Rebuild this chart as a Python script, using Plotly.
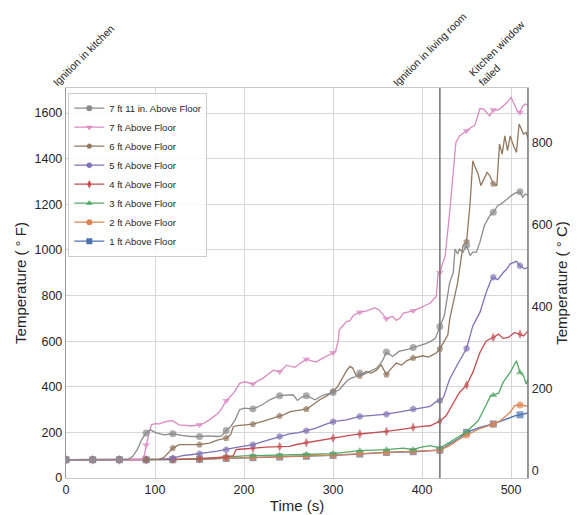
import plotly.graph_objects as go

# ---------------- data (time in s, temperature in deg F) ----------------
T_7FT11 = [0, 30, 60, 70, 75, 80, 85, 90, 95, 100,
           110, 120, 130, 140, 150, 160, 170, 175, 180, 185,
           190, 195, 200, 210, 220, 230, 240, 250, 255, 260,
           265, 270, 275, 280, 285, 290, 300, 307, 312, 317,
           322, 326, 330, 334, 340, 349, 353, 356, 360, 364,
           367, 374, 380, 385, 390, 400, 405, 410, 415, 420,
           423, 425, 428, 431, 435, 437, 440, 442, 446, 450,
           454, 457, 461, 465, 470, 476, 480, 485, 490, 495,
           500, 505, 510, 513, 516, 519]
F_7FT11 = [80, 80, 80, 82, 95, 124, 168, 197, 211, 200,
           189, 194, 187, 182, 182, 185, 182, 185, 208, 225,
           255, 299, 306, 303, 320, 345, 361, 362, 365, 340,
           355, 361, 352, 343, 355, 365, 375, 387, 410, 431,
           440, 445, 460, 453, 465, 482, 500, 518, 552, 540,
           533, 555, 560, 565, 572, 584, 590, 600, 612, 664,
           690, 711, 784, 857, 900, 1004, 983, 1004, 990, 1020,
           975, 990, 990, 1034, 1107, 1150, 1165, 1194, 1205, 1223,
           1238, 1250, 1255, 1231, 1245, 1240]

T_7FT = [0, 30, 60, 85, 88, 90, 93, 96, 100, 105,
         110, 119, 127, 135, 140, 150, 155, 161, 166, 171,
         175, 180, 184, 188, 192, 195, 201, 205, 210, 215,
         221, 227, 233, 240, 244, 248, 252, 257, 262, 270,
         275, 281, 286, 292, 300, 303, 306, 307, 311, 315,
         319, 323, 330, 335, 341, 347, 352, 356, 360, 364,
         367, 371, 375, 379, 385, 390, 397, 403, 409, 414,
         416, 418, 420, 423, 426, 431, 435, 438, 442, 446,
         450, 455, 459, 462, 465, 469, 472, 476, 480, 484,
         487, 491, 495, 500, 504, 507, 510, 513, 516, 519]
F_7FT = [80, 80, 80, 80, 100, 145, 195, 233, 238, 237,
         245, 252, 233, 231, 228, 233, 240, 255, 268, 284,
         305, 339, 355, 371, 395, 415, 422, 418, 412, 425,
         437, 455, 473, 466, 480, 495, 490, 485, 500, 521,
         515, 508, 520, 531, 549, 558, 606, 650, 670, 686,
         690, 714, 727, 730, 737, 747, 736, 715, 698, 705,
         708, 691, 700, 723, 728, 733, 745, 755, 766, 788,
         796, 898, 901, 940, 975, 1165, 1355, 1471, 1500, 1510,
         1523, 1537, 1545, 1580, 1620, 1618, 1603, 1588, 1615, 1612,
         1617, 1629, 1645, 1669, 1632, 1610, 1603, 1630, 1640, 1635]

T_6FT = [0, 30, 60, 90, 105, 110, 115, 120, 127, 135,
         140, 150, 161, 171, 180, 185, 188, 193, 199, 205,
         210, 221, 230, 240, 245, 252, 260, 265, 270, 277,
         285, 293, 300, 305, 311, 315, 319, 322, 326, 330,
         337, 343, 349, 354, 360, 364, 371, 377, 383, 390,
         401, 407, 412, 416, 420, 424, 429, 431, 435, 440,
         446, 450, 454, 457, 459, 463, 466, 470, 473, 476,
         480, 484, 487, 490, 493, 496, 499, 502, 506, 509,
         512, 514, 517, 519]
F_6FT = [80, 80, 80, 80, 82, 90, 110, 131, 146, 148,
         146, 146, 153, 167, 175, 190, 226, 230, 233, 236,
         236, 248, 258, 272, 278, 291, 295, 298, 302, 320,
         343, 360, 380, 400, 445, 470, 489, 482, 448, 448,
         467, 460, 474, 496, 453, 474, 504, 495, 515, 526,
         536, 530, 540, 548, 566, 591, 628, 696, 769, 858,
         1019, 1036, 1209, 1391, 1369, 1333, 1282, 1318, 1340, 1326,
         1289, 1282, 1464, 1420, 1500, 1435, 1500, 1464, 1428, 1552,
         1520, 1508, 1515, 1486]

T_5FT = [0, 30, 60, 90, 100, 110, 120, 131, 140, 150,
         160, 170, 180, 190, 200, 210, 220, 230, 240, 251,
         260, 270, 280, 290, 300, 315, 330, 345, 360, 375,
         390, 400, 409, 416, 420, 424, 431, 439, 446, 450,
         457, 465, 472, 477, 480, 485, 491, 495, 499, 506,
         510, 515, 519]
F_5FT = [80, 80, 80, 80, 81, 83, 87, 98, 102, 106,
         112, 118, 124, 133, 140, 146, 158, 170, 182, 193,
         198, 207, 218, 233, 247, 255, 270, 275, 280, 290,
         302, 308, 314, 336, 339, 353, 434, 492, 543, 568,
         667, 726, 813, 864, 880, 870, 900, 915, 939, 950,
         931, 917, 924]

T_4FT = [0, 30, 60, 90, 120, 150, 165, 180, 188, 191,
         195, 200, 210, 225, 240, 251, 260, 270, 285, 300,
         315, 330, 345, 360, 375, 390, 400, 409, 416, 420,
         427, 435, 442, 450, 457, 465, 472, 480, 486, 491,
         497, 504, 510, 514, 519]
F_4FT = [80, 80, 80, 80, 82, 85, 88, 92, 98, 124,
         126, 128, 131, 135, 138, 139, 148, 155, 165, 175,
         185, 193, 198, 204, 212, 222, 226, 229, 241, 249,
         273, 331, 375, 407, 463, 550, 601, 616, 631, 612,
         616, 638, 631, 623, 645]

T_3FT = [0, 30, 60, 90, 120, 150, 180, 200, 210, 240,
         251, 270, 300, 330, 360, 379, 390, 398, 409, 420,
         431, 446, 450, 463, 469, 472, 477, 480, 486, 491,
         499, 506, 510, 514, 517, 519]
F_3FT = [80, 80, 80, 80, 81, 84, 93, 97, 98, 100,
         100, 103, 107, 120, 124, 131, 124, 134, 142, 132,
         156, 193, 203, 251, 302, 320, 361, 363, 372, 419,
         463, 514, 463, 448, 412, 434]

T_2FT = [0, 30, 60, 90, 120, 150, 180, 210, 240, 270,
         300, 330, 360, 390, 420, 431, 442, 450, 465, 480,
         488, 499, 504, 510, 514, 519]
F_2FT = [80, 80, 80, 80, 81, 83, 87, 90, 93, 96,
         100, 107, 113, 116, 122, 142, 171, 188, 217, 236,
         251, 288, 317, 320, 317, 314]

T_1FT = [0, 30, 60, 90, 120, 150, 180, 210, 240, 270,
         300, 330, 360, 390, 420, 431, 442, 450, 465, 480,
         495, 504, 510, 514, 519]
F_1FT = [80, 80, 80, 80, 80, 82, 86, 89, 92, 95,
         99, 105, 112, 115, 122, 149, 174, 200, 222, 237,
         260, 272, 277, 280, 285]

EVENT_TIMES = [0, 420, 519]
EVENT_LABELS = ["Ignition in kitchen", "Ignition in living room", "Kitchen window<br>failed"]

X_MAX = 519
Y_MAX_F = 1710

FONT = "Liberation Sans, Arial, sans-serif"
TXT = "#262626"

series = [
    ("1 ft Above Floor", T_1FT, F_1FT, "#4c72b0", "square"),
    ("2 ft Above Floor", T_2FT, F_2FT, "#dd8452", "circle"),
    ("3 ft Above Floor", T_3FT, F_3FT, "#55a868", "triangle-up"),
    ("4 ft Above Floor", T_4FT, F_4FT, "#c44e52", "diamond-tall"),
    ("5 ft Above Floor", T_5FT, F_5FT, "#8172b3", "hexagon"),
    ("6 ft Above Floor", T_6FT, F_6FT, "#937860", "pentagon"),
    ("7 ft Above Floor", T_7FT, F_7FT, "#da8bc3", "triangle-down"),
    ("7 ft 11 in. Above Floor", T_7FT11, F_7FT11, "#8c8c8c", "circle"),
]

fig = go.Figure()
for name, t, f, color, sym in series:
    assert len(t) == len(f), name
    sizes = [7 if ti % 30 == 0 else 0 for ti in t]
    fig.add_trace(go.Scatter(
        x=t, y=f, mode="lines+markers", name=name, showlegend=False,
        line=dict(color=color, width=1.3),
        marker=dict(symbol=sym, size=sizes, color=color, line=dict(width=0)),
    ))
    fig.add_trace(go.Scatter(
        x=[None], y=[None], mode="lines+markers", name=name, showlegend=True,
        line=dict(color=color, width=1.3),
        marker=dict(symbol=sym, size=6, color=color),
    ))

# dummy trace on the Celsius axis
fig.add_trace(go.Scatter(x=[None], y=[None], yaxis="y2", showlegend=False))

shapes = []
for t in EVENT_TIMES[1:]:
    shapes.append(dict(type="line", xref="x", yref="paper", x0=t, x1=t, y0=0, y1=1,
                       line=dict(color="#7a7a7a", width=1.6)))

xshifts = [-18, -52, -64]
annotations = []
for t, lab, xs in zip(EVENT_TIMES, EVENT_LABELS, xshifts):
    annotations.append(dict(
        x=t, xref="x", y=1, yref="paper", text=lab, showarrow=False,
        textangle=-45, xanchor="left", yanchor="bottom", align="left",
        xshift=xs, yshift=-3, font=dict(family=FONT, size=10.5, color=TXT),
    ))

# page body adds an 8 px offset; figure is sized so the plot lands where the reference has it
fig.update_layout(
    width=570, height=507,
    margin=dict(l=58, r=50, t=80, b=37, autoexpand=False),
    paper_bgcolor="white", plot_bgcolor="white",
    font=dict(family=FONT, color=TXT, size=12.5),
    shapes=shapes, annotations=annotations,
    legend=dict(
        x=0.005, y=0.988, xanchor="left", yanchor="top",
        bgcolor="rgba(255,255,255,0.85)", bordercolor="#cccccc", borderwidth=1,
        font=dict(family=FONT, size=9.5, color=TXT), traceorder="reversed",
        tracegroupgap=0,
    ),
    xaxis=dict(
        range=[0, X_MAX], tickvals=[0, 100, 200, 300, 400, 500],
        showgrid=True, gridcolor="#d6d6d6", gridwidth=1.2,
        showline=True, linecolor="#c8c8c8", linewidth=1.2, mirror=True,
        zeroline=False, ticks="", automargin=False,
        title=dict(text="Time (s)", font=dict(family=FONT, size=15, color=TXT), standoff=4),
        tickfont=dict(family=FONT, size=12.5, color=TXT),
    ),
    yaxis=dict(
        range=[0, Y_MAX_F], tickvals=[0, 200, 400, 600, 800, 1000, 1200, 1400, 1600],
        showgrid=True, gridcolor="#d6d6d6", gridwidth=1.2,
        showline=True, linecolor="#9a9a9a", linewidth=1.4, mirror=False,
        zeroline=False, ticks="", automargin=False,
        title=dict(text="Temperature ( ° F)", font=dict(family=FONT, size=15, color=TXT), standoff=4),
        tickfont=dict(family=FONT, size=12.5, color=TXT),
    ),
    yaxis2=dict(
        overlaying="y", side="right",
        range=[(0 - 32) / 1.8, (Y_MAX_F - 32) / 1.8],
        tickvals=[0, 200, 400, 600, 800],
        showgrid=False, zeroline=False, ticks="", automargin=False,
        showline=True, linecolor="#9a9a9a", linewidth=1.4,
        title=dict(text="Temperature ( ° C)", font=dict(family=FONT, size=15, color=TXT), standoff=2),
        tickfont=dict(family=FONT, size=12.5, color=TXT),
    ),
)

fig.write_html("out.html")
